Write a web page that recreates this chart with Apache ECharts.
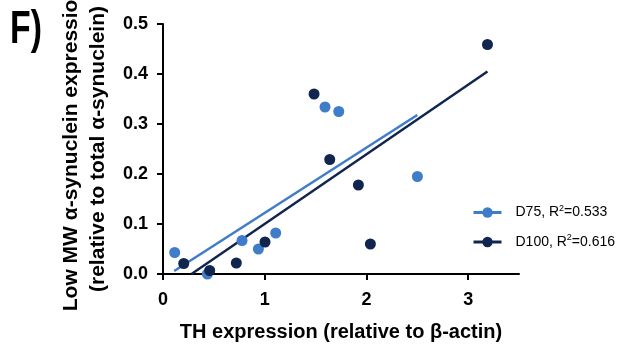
<!DOCTYPE html>
<html>
<head>
<meta charset="utf-8">
<script src="https://cdn.jsdelivr.net/npm/echarts@6/dist/echarts.min.js"></script>
<style>
  html, body { margin: 0; padding: 0; background: #fff; }
  #chart { width: 636px; height: 349px; }
</style>
</head>
<body>
<div id="chart"></div>
<script>
// TH expression (x) vs low MW alpha-synuclein fraction (y)
const d75X = [0.115, 0.436, 0.777, 0.938, 1.108, 1.593, 1.728, 2.501];
const d75Y = [0.043, 0.000, 0.067, 0.050, 0.082, 0.334, 0.325, 0.195];
const d100X = [0.204, 0.459, 0.721, 1.003, 1.485, 1.639, 1.921, 2.039, 3.190];
const d100Y = [0.021, 0.007, 0.022, 0.064, 0.360, 0.229, 0.178, 0.060, 0.459];

// regression line end points as drawn
const d75Fit = [[0.11, 0.006], [2.50, 0.318]];
const d100Fit = [[0.28, 0.0], [3.19, 0.405]];

const seriesNames = ['D75', 'D100'];
const rSquared = ['0.533', '0.616'];
const xTicks = [0, 1, 2, 3];

const lightBlue = '#3f7cc9';
const darkBlue = '#10264f';
const fontFamily = '"Liberation Sans", Arial, sans-serif';

const zip = (xs, ys) => xs.map((x, i) => [x, ys[i]]);

const chart = echarts.init(document.getElementById('chart'));
chart.setOption({
  animation: false,
  textStyle: { fontFamily },
  graphic: [{
    type: 'text',
    x: 10,
    y: 7,
    scaleX: 0.72,
    style: { text: 'F)', font: 'bold 47px "Liberation Sans", Arial, sans-serif', fill: '#000' }
  }],
  grid: { left: 163, top: 24, right: 117, bottom: 75, outerBoundsMode: 'none' },
  legend: {
    orient: 'vertical',
    left: 472,
    top: 204,
    padding: 0,
    itemGap: 14,
    itemWidth: 28,
    itemHeight: 13,
    lineStyle: { width: 3 },
    data: seriesNames,
    formatter: (name) => {
      const i = seriesNames.indexOf(name);
      return '{a|' + name + ', R}{s|2}{b|=' + rSquared[i] + '}';
    },
    textStyle: {
      color: '#000',
      rich: {
        a: { fontSize: 14, fontFamily, color: '#000', padding: [0, 0, 0, 9] },
        s: { fontSize: 9, fontFamily, color: '#000', verticalAlign: 'top', padding: [0, 0, 8, 0] },
        b: { fontSize: 14, fontFamily, color: '#000' }
      }
    }
  },
  xAxis: {
    type: 'value',
    min: 0,
    max: 3.5,
    interval: 1,
    name: 'TH expression (relative to β-actin)',
    nameLocation: 'middle',
    nameGap: 48,
    nameTextStyle: { fontSize: 20, fontWeight: 'bold', color: '#000', fontFamily },
    axisLine: { onZero: false, lineStyle: { color: '#000', width: 2 } },
    axisTick: { show: true, length: 6, lineStyle: { width: 2, color: '#000' }, customValues: xTicks },
    axisLabel: { fontSize: 18, fontWeight: 'bold', color: '#000', margin: 17, customValues: xTicks },
    splitLine: { show: false }
  },
  yAxis: {
    type: 'value',
    min: 0,
    max: 0.5,
    interval: 0.1,
    name: 'Low MW α-synuclein expression\n(relative to total α-synuclein)',
    nameLocation: 'middle',
    nameRotate: 90,
    nameGap: 45,
    nameTextStyle: { fontSize: 21, fontWeight: 'bold', color: '#000', lineHeight: 27, fontFamily },
    axisLine: { show: true, onZero: false, lineStyle: { color: '#000', width: 2 } },
    axisTick: { show: true, length: 6, lineStyle: { width: 2, color: '#000' } },
    axisLabel: { fontSize: 18, fontWeight: 'bold', color: '#000', margin: 15, formatter: (v) => v.toFixed(1) },
    splitLine: { show: false }
  },
  series: [
    {
      name: 'D75',
      type: 'line',
      data: d75Fit,
      symbol: 'circle',
      symbolSize: 10,
      showSymbol: false,
      lineStyle: { color: lightBlue, width: 2.5 },
      itemStyle: { color: lightBlue },
      z: 2
    },
    {
      name: 'D100',
      type: 'line',
      data: d100Fit,
      symbol: 'circle',
      symbolSize: 10,
      showSymbol: false,
      lineStyle: { color: darkBlue, width: 2.5 },
      itemStyle: { color: darkBlue },
      z: 2
    },
    {
      name: 'D75 points',
      type: 'scatter',
      data: zip(d75X, d75Y),
      symbolSize: 11,
      itemStyle: { color: lightBlue, opacity: 1 },
      z: 3
    },
    {
      name: 'D100 points',
      type: 'scatter',
      data: zip(d100X, d100Y),
      symbolSize: 11,
      itemStyle: { color: darkBlue, opacity: 1 },
      z: 3
    }
  ]
});
</script>
</body>
</html>
